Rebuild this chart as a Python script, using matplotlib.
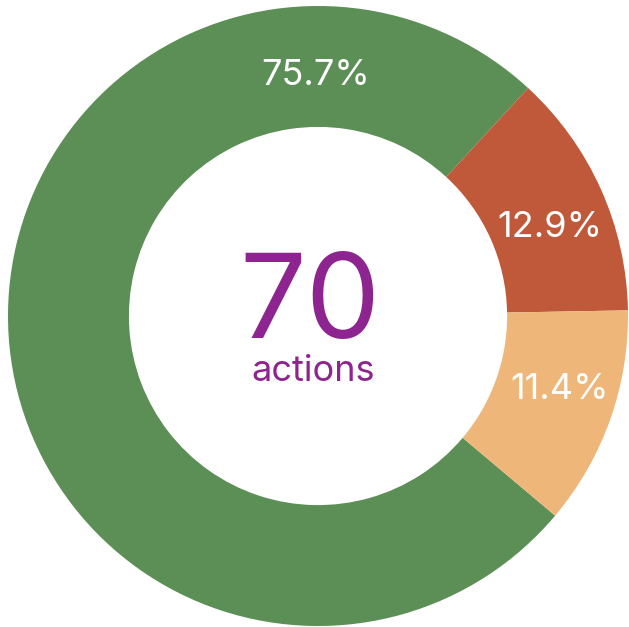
import matplotlib.pyplot as plt
import numpy as np

# data
categories = ['Done', 'In progress', 'Not started']
counts = [53, 9, 8]
colours = ['#5c8f55', '#c0593a', '#efb67a']
total_label = 'actions'

# where the percentage labels sit (radius, angle in degrees)
label_pos = [(0.775, 90.5), (0.80, 20.8), (0.815, -16.8)]

fig = plt.figure(figsize=(6.29, 6.27), dpi=100)
ax = fig.add_axes([0, 0, 1, 1])

wedges, _ = ax.pie(counts, colors=colours, startangle=-40.1, counterclock=False,
                   radius=1, wedgeprops=dict(width=0.39, linewidth=0))

total = sum(counts)
for n, (r, a) in zip(counts, label_pos):
    pct = '{:.1f}%'.format(100.0 * n / total)
    ax.text(r * np.cos(np.radians(a)), r * np.sin(np.radians(a)), pct,
            ha='center', va='center', color='white', fontsize=26,
            family='Inter')

# big total in the hole
ax.text(-0.027, 0.03, str(total), ha='center', va='center', color='#8e248f',
        fontsize=85, family='Inter')
ax.text(-0.015, -0.18, total_label, ha='center', va='center', color='#8e248f',
        fontsize=26, family='Inter')

# centre of the ring at (318, 316) px, radius 310 px
ax.set_xlim(-318 / 310, (629 - 318) / 310)
ax.set_ylim(-(627 - 316) / 310, 316 / 310)
ax.set_aspect('auto')
ax.axis('off')

fig.savefig('out.png', dpi=100)
